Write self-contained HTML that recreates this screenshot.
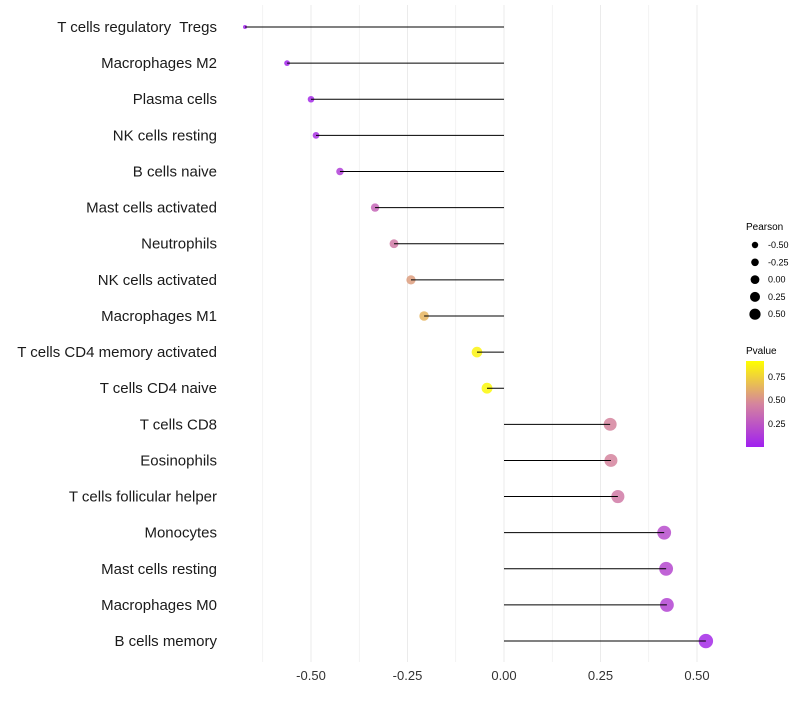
<!DOCTYPE html>
<html><head><meta charset="utf-8"><style>
body{margin:0;background:#fff;font-family:"Liberation Sans",sans-serif;}
text{white-space:pre;}
</style></head><body>
<svg id="c" width="800" height="700" xmlns="http://www.w3.org/2000/svg">
<defs><linearGradient id="pg" x1="0" y1="1" x2="0" y2="0">
<stop offset="0" stop-color="#a020f0"/><stop offset="0.5" stop-color="#d5849e"/><stop offset="1" stop-color="#ffff00"/>
</linearGradient></defs>
<g id="grid"></g><g id="marks"></g><g id="labels"></g>
<g font-size="9" fill="#000">
<text x="746" y="230" font-size="10">Pearson</text>
<g id="sizeleg"></g>
<text x="746" y="354" font-size="10">Pvalue</text>
<rect x="746" y="361" width="18" height="86" fill="url(#pg)"/>
<text x="768" y="380">0.75</text><text x="768" y="403">0.50</text><text x="768" y="427">0.25</text>
</g>
</svg>
<script>
const categories=["T cells regulatory  Tregs","Macrophages M2","Plasma cells","NK cells resting","B cells naive","Mast cells activated","Neutrophils","NK cells activated","Macrophages M1","T cells CD4 memory activated","T cells CD4 naive","T cells CD8","Eosinophils","T cells follicular helper","Monocytes","Mast cells resting","Macrophages M0","B cells memory"];
const pearson=[-0.671,-0.562,-0.5,-0.487,-0.425,-0.334,-0.285,-0.241,-0.207,-0.07,-0.044,0.275,0.277,0.295,0.415,0.42,0.422,0.523];
const pvalue=[0.02,0.03,0.05,0.08,0.15,0.35,0.45,0.6,0.7,0.95,0.97,0.5,0.5,0.45,0.22,0.2,0.18,0.05];
const xTicks=[-0.5,-0.25,0,0.25,0.5];
const xTickLabels=["-0.50","-0.25","0.00","0.25","0.50"];
const legendSizes=[-0.5,-0.25,0,0.25,0.5];
const legendLabels=["-0.50","-0.25","0.00","0.25","0.50"];
const NS="http://www.w3.org/2000/svg";
const xs=v=>504+v*386;
const ys=i=>27+i*36.12;
const rs=v=>Math.sqrt(Math.max(4,31+40.2*v));
function lerp(a,b,t){return a.map((x,k)=>Math.round(x+(b[k]-x)*t));}
function col(p){const c0=[160,32,240],c1=[213,132,158],c2=[255,255,0];
 const c=p<0.5?lerp(c0,c1,p/0.5):lerp(c1,c2,(p-0.5)/0.5);return `rgb(${c.join(',')})`;}
function mk(t,a,parent){const e=document.createElementNS(NS,t);for(const k in a)e.setAttribute(k,a[k]);parent.appendChild(e);return e;}
const grid=document.getElementById('grid'),marks=document.getElementById('marks'),labels=document.getElementById('labels');
for(let v=-0.625;v<=0.51;v+=0.125){
 const g=mk('line',{x1:xs(v),x2:xs(v),y1:5,y2:662,stroke:'#ebebeb','stroke-width':Math.abs((v*4)%1)<1e-6?1:0.6},grid);
 
 
}
xTicks.forEach((v,i)=>{
 const t=mk('text',{x:xs(v),y:680,'text-anchor':'middle','font-size':13,fill:'#333'},labels);t.textContent=xTickLabels[i];
 
 
});
categories.forEach((c,i)=>{
 const y=ys(i);
 const t=mk('text',{x:217,y:y+5,'text-anchor':'end','font-size':15,fill:'#1a1a1a'},labels);t.textContent=c;
 
 
 const p=mk('circle',{cx:xs(pearson[i]),cy:y,r:rs(pearson[i]),fill:col(pvalue[i]),'fill-opacity':0.85},marks);
 
 
 const l=mk('line',{x1:xs(0),x2:xs(pearson[i]),y1:y,y2:y,stroke:'#000','stroke-width':1},marks);
 
 
});
const sl=document.getElementById('sizeleg');
legendSizes.forEach((v,i)=>{
 const y=245+i*17.3;
 const c=mk('circle',{cx:755,cy:y,r:3.2+(v+0.5)*2.4,fill:'#000'},sl);
 
 
 const t=mk('text',{x:768,y:y+3,'font-size':9},sl);t.textContent=legendLabels[i];
 
 
});
</script>
</body></html>
